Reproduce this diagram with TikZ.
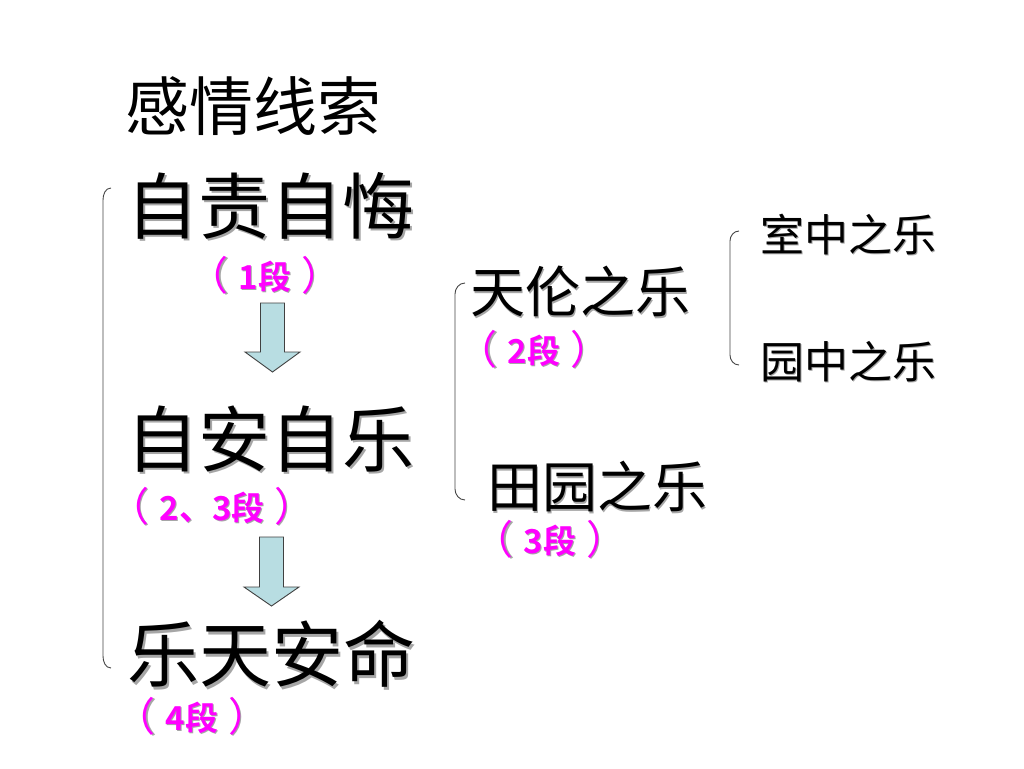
\documentclass[tikz,border=0pt]{standalone}
\usepackage{fontspec}
\setmainfont{Noto Sans CJK SC}[BoldFont={Noto Sans CJK SC Bold}]
\newcommand\shd[1]{\makebox[0pt][l]{\hspace{0.035em}\raisebox{-0.035em}{\textcolor{black!35}{#1}}}#1}
\newcommand\lpar{{\fontsize{40pt}{42pt}\selectfont\mdseries\raisebox{-0.02em}{（}}}
\newcommand\rpar{{\fontsize{40pt}{42pt}\selectfont\mdseries\raisebox{-0.02em}{）}}}
\newcommand\segtxt[1]{\lpar\hspace{0.3em}#1\hspace{0.3em}\rpar}
\definecolor{arrowfill}{RGB}{184,221,226}
\definecolor{bracketgray}{RGB}{70,70,70}
\definecolor{segpink}{RGB}{255,0,255}
\tikzset{
  title/.style={inner sep=0pt, font=\fontsize{64pt}{70pt}\selectfont},
  bigtxt/.style={inner sep=0pt, font=\fontsize{72pt}{78pt}\selectfont},
  midtxt/.style={inner sep=0pt, font=\fontsize{55pt}{60pt}\selectfont},
  smalltxt/.style={inner sep=0pt, font=\fontsize{44pt}{48pt}\selectfont},
  seg/.style={inner sep=0pt, text=segpink, font=\fontsize{33pt}{36pt}\selectfont\bfseries},
  blockarrow/.style={draw=black!75, line width=0.9pt, fill=arrowfill, line join=miter},
  brk/.style={draw=bracketgray, line width=0.9pt},
}
\begin{document}
\begin{tikzpicture}[x=1pt,y=-1pt]
\useasboundingbox (0,0) rectangle (1024,768);
\fill[white] (0,0) rectangle (1024,768);

\node[title] (t) at (253,106) {感情线索};

\node[bigtxt] (a) at (270,207) {\shd{自责自悔}};
\node[seg] (a1) at (265,276) {\shd{\segtxt{1段}}};
\node[bigtxt] (b) at (270,440) {\shd{自安自乐}};
\node[seg] (b1) at (212,507) {\shd{\segtxt{2、3段}}};
\node[bigtxt] (c) at (271,655) {\shd{乐天安命}};
\node[seg] (c1) at (192,717) {\shd{\segtxt{4段}}};

\node[midtxt] (d) at (580,292) {\shd{天伦之乐}};
\node[seg] (d1) at (534,350) {\shd{\segtxt{2段}}};
\node[midtxt] (e) at (597,487) {\shd{田园之乐}};
\node[seg] (e1) at (550,540) {\shd{\segtxt{3段}}};

\node[smalltxt] (f) at (848,235) {\shd{室中之乐}};
\node[smalltxt] (g) at (848,362) {\shd{园中之乐}};

% block arrows
\coordinate (ar1) at (272.5,303);
\draw[blockarrow] (ar1) ++(-12,0) -- ++(24,0) -- ++(0,49) -- ++(15.5,0) -- ++(-27.5,20) -- ++(-27.5,-20) -- ++(15.5,0) -- cycle;
\coordinate (ar2) at (271.5,537);
\draw[blockarrow] (ar2) ++(-12,0) -- ++(24,0) -- ++(0,50) -- ++(15.5,0) -- ++(-27.5,19) -- ++(-27.5,-19) -- ++(15.5,0) -- cycle;

% brackets
\coordinate (L1) at (111,188);
\coordinate (L2) at (111,668);
\draw[brk] (L1) to[out=180,in=90] ++(-8,12) -- ++(0,456) to[out=-90,in=180] (L2);
\coordinate (M1) at (465,283);
\draw[brk] (M1) to[out=180,in=90] ++(-10,11) -- ++(0,195) to[out=-90,in=180] ++(10,11) coordinate (M2);
\coordinate (R1) at (739,231);
\draw[brk] (R1) to[out=180,in=90] ++(-9,10) -- ++(0,114) to[out=-90,in=180] ++(9,10) coordinate (R2);
\end{tikzpicture}
\end{document}
